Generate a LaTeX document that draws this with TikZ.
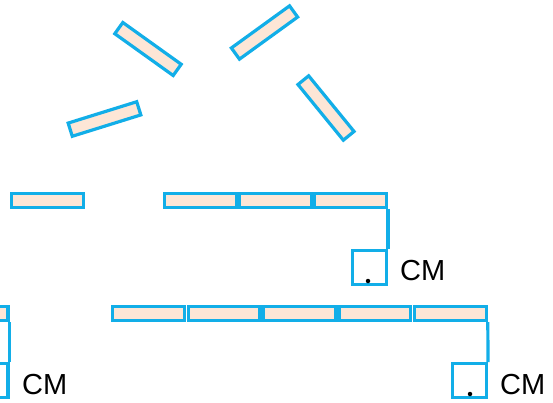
\documentclass[tikz,border=0pt]{standalone}
\usepackage{fontspec}
\setmainfont{Liberation Sans}
\usetikzlibrary{positioning,calc}
\definecolor{stickline}{HTML}{12AEE8}
\definecolor{stickfill}{HTML}{FDE6D6}
\tikzset{
  % Match sticks
  stick/.style={draw=stickline,line width=3.2pt,fill=stickfill,
                minimum width=71.8pt,minimum height=13.8pt,inner sep=0pt},
  % Square cells
  cell/.style={draw=stickline,line width=3.2pt,fill=white,
               minimum size=33.8pt,inner sep=0pt},
  % Connectors, dots & labels
  link/.style={stickline,line width=3.2pt},
  dot/.style={circle,fill=black,minimum size=4.5pt,inner sep=0pt},
  lbl/.style={font=\fontsize{29}{31}\selectfont,inner sep=0pt,anchor=base west}
}
\begin{document}
\begin{tikzpicture}[x=1pt,y=-1pt]
  \useasboundingbox (0,0) rectangle (553,402);

  % Loose sticks
  \node[stick,rotate=-35.6] (ta) at (148,49)    {};
  \node[stick,rotate=35.9]  (tb) at (264.5,32.5) {};
  \node[stick,rotate=17.3]  (tc) at (104.5,119) {};
  \node[stick,rotate=-50.8] (td) at (326,108)   {};
  \node[stick] (single) at (47.5,200.5) {};

  % Upper row
  \node[stick] (ua) at (200.5,200.5) {};
  \node[stick] (ub) at (275.5,200.5) {};
  \node[stick] (uc) at (350.5,200.5) {};
  \node[cell]  (usq) at (369.5,267.5) {};
  \node[dot]   (udot) at (368,281) {};
  \node[lbl]   (ucm) at (400,280) {CM};
  \draw[link] (uc.south east) -- (usq.north east);

  % Lower row
  \node[stick] (la) at (148.7,313.5) {};
  \node[stick] (lb) at (224.1,313.5) {};
  \node[stick] (lc) at (299.5,313.5) {};
  \node[stick] (ld) at (374.9,313.5) {};
  \node[stick] (le) at (450.3,313.5) {};
  \node[cell]  (lsq) at (469.5,380.5) {};
  \node[dot]   (ldot) at (470,394) {};
  \node[lbl]   (lcm) at (500,394) {CM};
  \draw[link] (le.south east) -- (lsq.north east);

  % Cut-off row at the left edge
  \node[stick] (ea) at (-28,313.5) {};
  \node[cell]  (esq) at (-9,380.5) {};
  \node[lbl]   (ecm) at (22,394) {CM};
  \draw[link] (ea.south east) -- (esq.north east);
\end{tikzpicture}
\end{document}
